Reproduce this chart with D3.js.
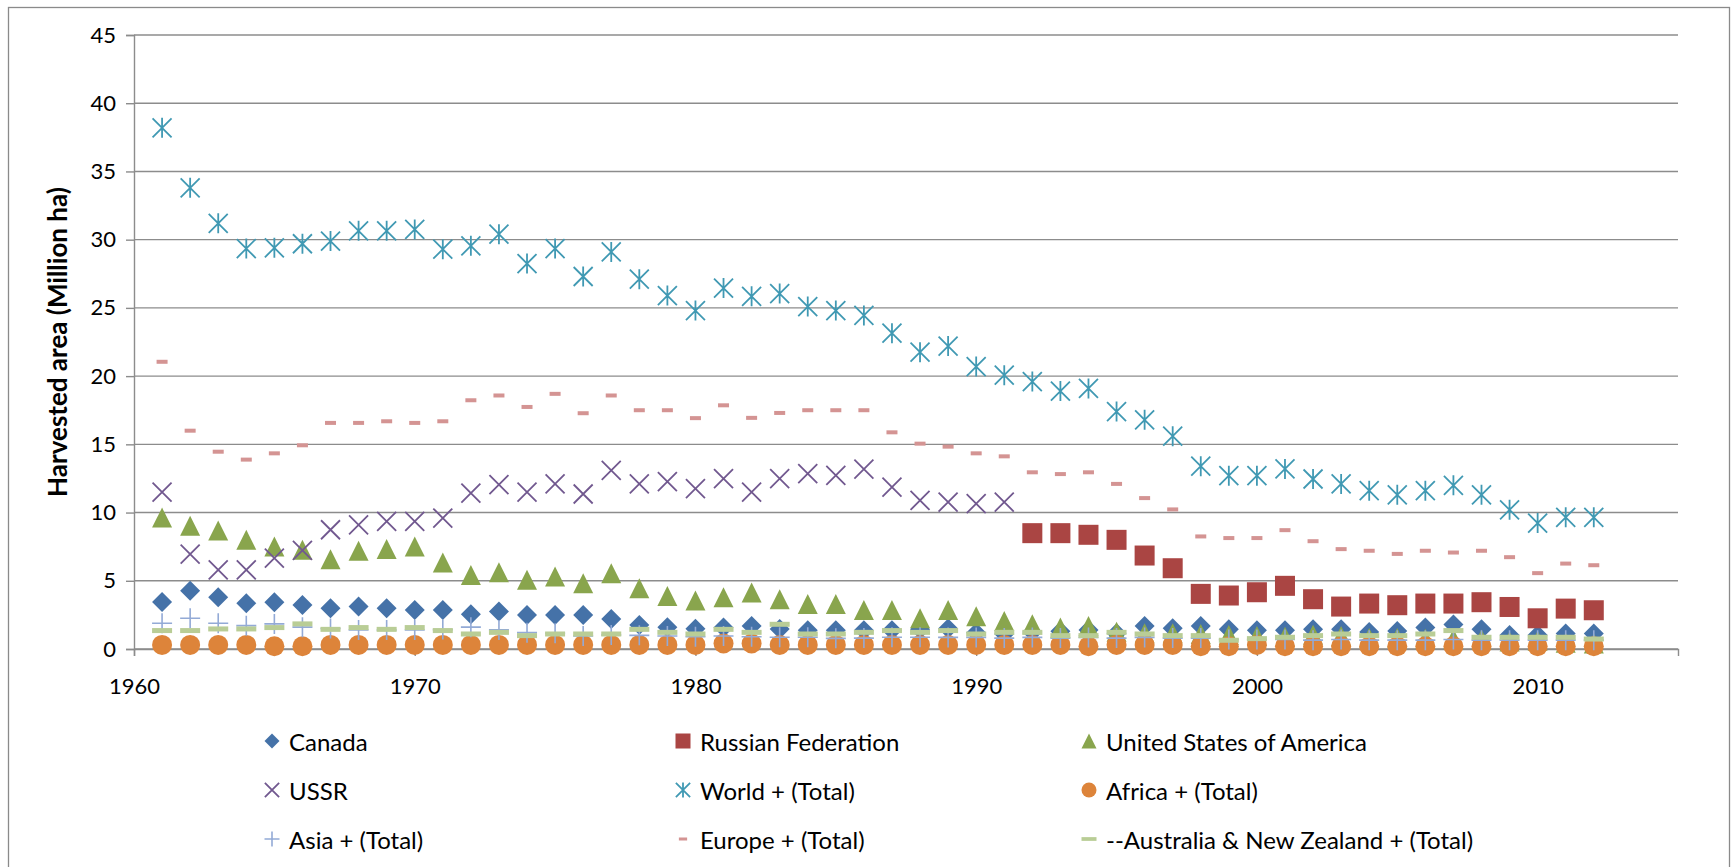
<!DOCTYPE html>
<html>
<head>
<meta charset="utf-8">
<script src="https://cdn.jsdelivr.net/npm/d3@7/dist/d3.min.js"></script>
<style>
  html, body { margin: 0; padding: 0; background: #fff; }
  svg { display: block; }
  text { font-family: Lato, "Open Sans", sans-serif; fill: #000; }
</style>
</head>
<body>
<svg id="chart" width="1735" height="867"></svg>
<script>
// Harvested area by region, 1961-2012 (million ha)
const years = [1961,1962,1963,1964,1965,1966,1967,1968,1969,1970,
               1971,1972,1973,1974,1975,1976,1977,1978,1979,1980,
               1981,1982,1983,1984,1985,1986,1987,1988,1989,1990,
               1991,1992,1993,1994,1995,1996,1997,1998,1999,2000,
               2001,2002,2003,2004,2005,2006,2007,2008,2009,2010,
               2011,2012];
const ussrYears = years.slice(0, 31);      // 1961-1991
const russiaYears = years.slice(31);       // 1992-2012

const canada = [3.45,4.26,3.79,3.35,3.43,3.23,2.99,3.11,2.99,2.86,
                2.86,2.55,2.74,2.5,2.5,2.5,2.2,1.76,1.59,1.49,
                1.57,1.69,1.47,1.37,1.37,1.37,1.37,1.45,1.5,1.2,
                1.1,1.25,1.3,1.4,1.15,1.69,1.52,1.69,1.44,1.37,
                1.37,1.44,1.44,1.25,1.32,1.57,1.79,1.44,1.03,1.03,
                1.13,1.13];
const russia = [8.49,8.49,8.37,8.0,6.85,5.92,4.04,3.92,4.16,4.63,
                3.65,3.11,3.33,3.21,3.33,3.33,3.43,3.08,2.25,2.96,2.84];
const usa = [9.63,9.04,8.69,8.0,7.51,7.27,6.58,7.2,7.32,7.51,
             6.34,5.43,5.63,5.07,5.31,4.82,5.56,4.46,3.89,3.55,
             3.79,4.14,3.65,3.3,3.3,2.86,2.86,2.25,2.86,2.4,
             2.06,1.81,1.57,1.69,1.27,1.15,1.15,1.1,1.03,0.95,
             0.9,1.05,0.95,0.8,0.8,0.75,0.75,0.7,0.55,0.6,
             0.45,0.4];
const ussr = [11.5,6.95,5.8,5.8,6.66,7.22,8.74,9.1,9.35,9.35,
              9.6,11.43,12.04,11.5,12.1,11.36,13.09,12.1,12.26,11.75,
              12.48,11.5,12.48,12.85,12.73,13.19,11.87,10.89,10.77,10.65,
              10.77];
const world = [38.2,33.8,31.2,29.35,29.4,29.7,29.9,30.65,30.65,30.75,
               29.3,29.55,30.4,28.25,29.35,27.3,29.1,27.1,25.9,24.8,
               26.45,25.85,26.05,25.1,24.8,24.45,23.15,21.75,22.2,20.7,
               20.07,19.6,18.9,19.1,17.4,16.8,15.6,13.4,12.7,12.7,
               13.2,12.46,12.1,11.6,11.3,11.6,12.0,11.3,10.2,9.23,
               9.65,9.65];
const africa = [0.3,0.3,0.3,0.3,0.2,0.2,0.3,0.3,0.3,0.3,
                0.3,0.3,0.3,0.3,0.3,0.3,0.3,0.3,0.3,0.3,
                0.4,0.4,0.3,0.3,0.3,0.3,0.3,0.3,0.3,0.3,
                0.3,0.3,0.3,0.2,0.3,0.3,0.3,0.2,0.2,0.3,
                0.2,0.2,0.2,0.2,0.2,0.2,0.2,0.2,0.2,0.2,
                0.2,0.2];
const asia = [1.89,2.25,1.89,1.71,1.84,1.6,1.5,1.39,1.39,1.39,
              1.42,1.6,1.4,1.2,1.15,0.95,1.03,1.0,0.95,0.9,
              0.95,0.9,0.86,0.86,0.78,0.8,0.86,0.86,0.85,0.85,
              0.8,0.85,0.8,0.85,0.8,0.85,0.8,0.8,0.7,0.7,
              0.7,0.65,0.7,0.65,0.65,0.65,0.7,0.65,0.65,0.65,
              0.65,0.65];
const europe = [21.05,16.0,14.46,13.88,14.34,14.93,16.57,16.57,16.69,16.57,
                16.69,18.23,18.58,17.74,18.7,17.28,18.58,17.5,17.5,16.92,
                17.86,16.94,17.3,17.5,17.5,17.5,15.88,15.05,14.83,14.34,
                14.12,12.95,12.82,12.95,12.1,11.06,10.23,8.25,8.13,8.13,
                8.71,7.9,7.32,7.2,6.97,7.2,7.07,7.2,6.73,5.56,
                6.26,6.14];
const ausNz = [1.35,1.35,1.47,1.47,1.57,1.84,1.44,1.57,1.44,1.57,
               1.35,1.1,1.22,0.98,1.1,1.1,1.1,1.44,1.22,1.1,
               1.44,1.22,1.81,1.1,1.1,1.22,1.35,1.22,1.35,1.1,
               1.22,1.22,0.98,0.98,1.22,1.1,0.98,0.98,0.64,0.76,
               0.86,0.98,1.1,0.98,0.98,1.1,1.35,0.86,0.86,0.86,
               0.86,0.73];

const xTicks = [1960, 1970, 1980, 1990, 2000, 2010];
const yTicks = [0, 5, 10, 15, 20, 25, 30, 35, 40, 45];

const seriesNames = ["Canada", "Russian Federation", "United States of America",
                     "USSR", "World + (Total)", "Africa + (Total)",
                     "Asia + (Total)", "Europe + (Total)", "--Australia & New Zealand + (Total)"];

// Marker drawers: each appends a shape centred on (0,0) scaled by s
const markers = {
  diamond: (g, c, s) => g.append("path").attr("d", `M0,${-10*s}L${10*s},0L0,${10*s}L${-10*s},0Z`).attr("fill", c),
  square:  (g, c, s) => g.append("rect").attr("x", -10*s).attr("y", -10*s).attr("width", 20*s).attr("height", 20*s).attr("fill", c),
  triangle:(g, c, s) => g.append("path").attr("d", `M0,${-10*s}L${10*s},${10*s}L${-10*s},${10*s}Z`).attr("fill", c),
  cross:   (g, c, s) => g.append("path").attr("d", `M${-9.5*s},${-9.5*s}L${9.5*s},${9.5*s}M${9.5*s},${-9.5*s}L${-9.5*s},${9.5*s}`)
                         .attr("stroke", c).attr("stroke-width", 1.8).attr("fill", "none"),
  star:    (g, c, s) => g.append("path").attr("d", `M${-9.5*s},${-9.5*s}L${9.5*s},${9.5*s}M${9.5*s},${-9.5*s}L${-9.5*s},${9.5*s}M0,${-10*s}L0,${10*s}`)
                         .attr("stroke", c).attr("stroke-width", 1.8).attr("fill", "none"),
  circle:  (g, c, s) => g.append("circle").attr("r", 10*s).attr("fill", c),
  plus:    (g, c, s) => g.append("path").attr("d", `M${-10*s},0L${10*s},0M0,${-10*s}L0,${10*s}`)
                         .attr("stroke", c).attr("stroke-width", 1.6).attr("fill", "none"),
  shortDash:(g, c, s) => g.append("rect").attr("x", -5.5*s).attr("y", -2*s).attr("width", 11*s).attr("height", 4*s).attr("fill", c),
  longDash:(g, c, s) => g.append("rect").attr("x", -10*s).attr("y", -2.5*s).attr("width", 20*s).attr("height", 5*s).attr("fill", c)
};

const series = [
  { name: seriesNames[0], years: years,       values: canada, shape: "diamond",  color: "#4572A8" },
  { name: seriesNames[1], years: russiaYears, values: russia, shape: "square",   color: "#AA4543" },
  { name: seriesNames[2], years: years,       values: usa,    shape: "triangle", color: "#89A54D" },
  { name: seriesNames[3], years: ussrYears,   values: ussr,   shape: "cross",    color: "#71588F" },
  { name: seriesNames[4], years: years,       values: world,  shape: "star",     color: "#4099B3" },
  { name: seriesNames[5], years: years,       values: africa, shape: "circle",   color: "#DD843A" },
  { name: seriesNames[6], years: years,       values: asia,   shape: "plus",     color: "#93AAD6" },
  { name: seriesNames[7], years: years,       values: europe, shape: "shortDash",color: "#D49493" },
  { name: seriesNames[8], years: years,       values: ausNz,  shape: "longDash", color: "#B9CD96" }
];

const svg = d3.select("#chart");

// chart area border
svg.append("rect")
  .attr("x", 8.5).attr("y", 7.5).attr("width", 1721).attr("height", 880)
  .attr("fill", "#fff").attr("stroke", "#8a8a8a").attr("stroke-width", 1.3);

const x = d3.scaleLinear().domain([1960, 2015]).range([134, 1678]);
const y = d3.scaleLinear().domain([0, 45]).range([649, 35]);

// horizontal gridlines
svg.append("g")
  .selectAll("line")
  .data(yTicks)
  .join("line")
  .attr("x1", x(1960)).attr("x2", x(2015))
  .attr("y1", d => y(d)).attr("y2", d => y(d))
  .attr("stroke", "#8c8c8c").attr("stroke-width", 1.4);

// y axis
const yAxis = svg.append("g")
  .attr("transform", `translate(${x(1960)},0)`)
  .call(d3.axisLeft(y).tickValues(yTicks).tickSize(8).tickPadding(10));
yAxis.select(".domain").attr("stroke", "#8c8c8c").attr("stroke-width", 1.4);
yAxis.selectAll(".tick line").attr("stroke", "#8c8c8c").attr("stroke-width", 1.4);
yAxis.selectAll(".tick text").style("font-size", "22px").style("font-family", "Lato, sans-serif").attr("fill", "#000");

// x axis
const xAxis = svg.append("g")
  .attr("transform", `translate(0,${y(0)})`)
  .call(d3.axisBottom(x).tickValues(xTicks).tickFormat(d3.format("d")).tickSize(7).tickPadding(22));
xAxis.select(".domain").attr("stroke", "#8c8c8c").attr("stroke-width", 1.4);
xAxis.selectAll(".tick line").attr("stroke", "#8c8c8c").attr("stroke-width", 1.4);
xAxis.selectAll(".tick text").style("font-size", "22px").style("font-family", "Lato, sans-serif").attr("fill", "#000");

// y axis title
svg.append("text")
  .attr("transform", `translate(60,${(y(0) + y(45)) / 2}) rotate(-90)`)
  .attr("text-anchor", "middle")
  .attr("dominant-baseline", "middle")
  .style("font-size", "26px")
  .style("font-weight", "bold")
  .text("Harvested area (Million ha)");

// data markers, drawn series by series
const plot = svg.append("g");
series.forEach(s => {
  const g = plot.append("g");
  s.values.forEach((v, i) => {
    const m = g.append("g").attr("transform", `translate(${x(s.years[i])},${y(v)})`);
    markers[s.shape](m, s.color, 1);
  });
});

// legend: three columns, three rows
const legendCols = [272, 683, 1089];
const legendRows = [741, 790, 839];
const legend = svg.append("g");
series.forEach((s, i) => {
  const cx = legendCols[i % 3], cy = legendRows[Math.floor(i / 3)];
  const m = legend.append("g").attr("transform", `translate(${cx},${cy})`);
  markers[s.shape](m, s.color, 0.75);
  legend.append("text")
    .attr("x", cx + 17).attr("y", cy)
    .attr("dominant-baseline", "central")
    .style("font-size", "24px")
    .text(s.name);
});
</script>
</body>
</html>
